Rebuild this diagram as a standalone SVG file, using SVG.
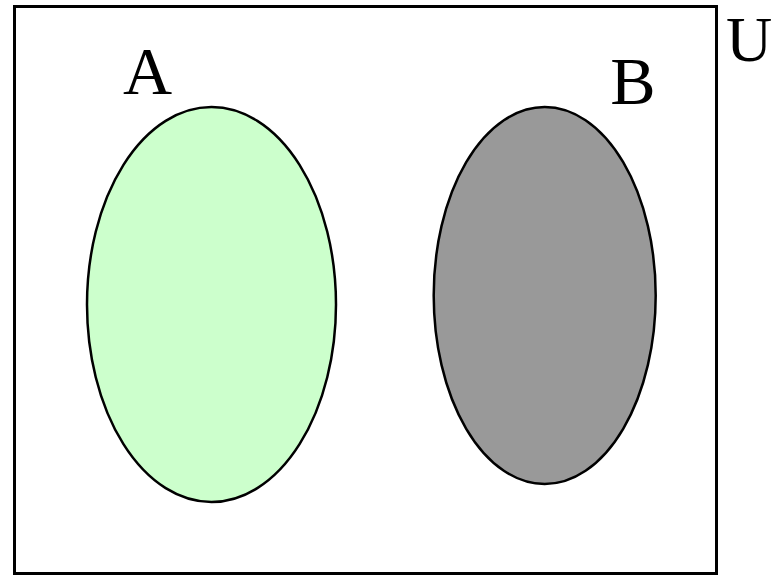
<svg xmlns="http://www.w3.org/2000/svg" width="773" height="575" viewBox="0 0 773 575">
<style>
.lbl{font-family:"Liberation Serif","Times New Roman",serif;font-size:68px;fill:#000}
.set{stroke:#000;stroke-width:2.5}
</style>
<rect x="0" y="0" width="773" height="575" fill="#fff"/>
<g id="universe">
<rect x="14.5" y="6.5" width="702" height="567" fill="none" stroke="#000" stroke-width="3"/>
<text class="lbl" x="726" y="61" style="font-size:64px">U</text>
</g>
<g id="setA">
<ellipse class="set" cx="211.5" cy="304.5" rx="124.5" ry="197.5" fill="#ccffcc"/>
<text class="lbl" x="147.5" y="94" text-anchor="middle">A</text>
</g>
<g id="setB">
<ellipse class="set" cx="544.7" cy="295.5" rx="111" ry="188.5" fill="#999999"/>
<text class="lbl" x="633" y="104" text-anchor="middle">B</text>
</g>
<g id="connectors"></g>
</svg>
